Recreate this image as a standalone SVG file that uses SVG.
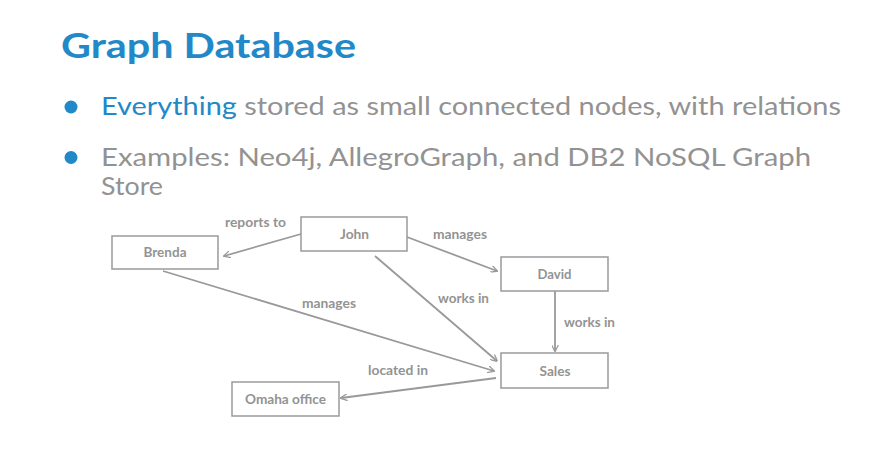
<svg xmlns="http://www.w3.org/2000/svg" width="869" height="453" viewBox="0 0 869 453">
<defs>
<style>
.title{font-family:Lato,"Open Sans","Liberation Sans",sans-serif;font-weight:700;font-size:35px;fill:#2289c8}
.bul{font-family:Lato,"Open Sans","Liberation Sans",sans-serif;font-size:25px;fill:#929292}
.blue{fill:#2289c8}
.dot{fill:#2289c8}
.box{fill:#fff;stroke:#9a9a9a;stroke-width:1.5}
.nl{font-family:Lato,"Open Sans","Liberation Sans",sans-serif;font-weight:700;font-size:12.5px;fill:#939393;text-anchor:middle}
.el{font-family:Lato,"Open Sans","Liberation Sans",sans-serif;font-weight:700;font-size:12.5px;fill:#939393}
.edge{stroke:#999;stroke-width:1.8;fill:none;marker-end:url(#arr)}
</style>
<marker id="arr" viewBox="0 0 10 10" refX="9" refY="5" markerWidth="7" markerHeight="7" markerUnits="userSpaceOnUse" orient="auto">
<path d="M0,0 L10,5 L0,10" fill="none" stroke="#999" stroke-width="1.8"/>
</marker>
</defs>
<rect width="869" height="453" fill="#fff"/>
<text class="title" x="61" y="58" textLength="295" lengthAdjust="spacingAndGlyphs">Graph Database</text>
<circle class="dot" cx="71" cy="107" r="6.5"/>
<text class="bul" x="101" y="115" textLength="740" lengthAdjust="spacingAndGlyphs"><tspan class="blue">Everything</tspan> stored as small connected nodes, with relations</text>
<circle class="dot" cx="71" cy="157.5" r="6.5"/>
<text class="bul" x="101" y="166" textLength="710" lengthAdjust="spacingAndGlyphs">Examples: Neo4j, AllegroGraph, and DB2 NoSQL Graph</text>
<text class="bul" x="101" y="195" textLength="62" lengthAdjust="spacingAndGlyphs">Store</text>
<g id="connectors">
<line class="edge" x1="301" y1="234" x2="224" y2="256"/>
<line class="edge" x1="407" y1="237" x2="497" y2="271"/>
<line class="edge" x1="375" y1="256" x2="497" y2="361"/>
<line class="edge" x1="163" y1="271" x2="494" y2="371"/>
<line class="edge" x1="555" y1="291" x2="555" y2="351"/>
<line class="edge" x1="496" y1="378" x2="341" y2="398"/>
<text class="el" x="225" y="227" textLength="61" lengthAdjust="spacingAndGlyphs">reports to</text>
<text class="el" x="433" y="239" textLength="54" lengthAdjust="spacingAndGlyphs">manages</text>
<text class="el" x="438" y="303" textLength="51" lengthAdjust="spacingAndGlyphs">works in</text>
<text class="el" x="564" y="327" textLength="51" lengthAdjust="spacingAndGlyphs">works in</text>
<text class="el" x="302" y="308" textLength="54" lengthAdjust="spacingAndGlyphs">manages</text>
<text class="el" x="368" y="375" textLength="60" lengthAdjust="spacingAndGlyphs">located in</text>
</g>
<g id="brenda"><rect class="box" x="112" y="236" width="106" height="33"/><text class="nl" x="165" y="257" textLength="43" lengthAdjust="spacingAndGlyphs">Brenda</text></g>
<g id="john"><rect class="box" x="301" y="217" width="106" height="34"/><text class="nl" x="354.5" y="239" textLength="29" lengthAdjust="spacingAndGlyphs">John</text></g>
<g id="david"><rect class="box" x="501" y="257" width="107" height="34"/><text class="nl" x="554.5" y="279" textLength="34" lengthAdjust="spacingAndGlyphs">David</text></g>
<g id="sales"><rect class="box" x="501" y="353" width="107" height="35"/><text class="nl" x="555" y="376" textLength="31" lengthAdjust="spacingAndGlyphs">Sales</text></g>
<g id="omaha"><rect class="box" x="232" y="382" width="107" height="34"/><text class="nl" x="285.5" y="404" textLength="81" lengthAdjust="spacingAndGlyphs">Omaha office</text></g>
</svg>
